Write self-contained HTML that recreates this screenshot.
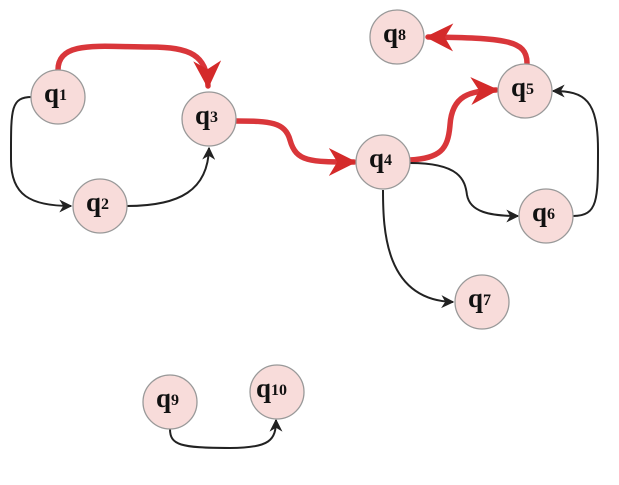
<!DOCTYPE html>
<html><head><meta charset="utf-8"><style>
html,body{margin:0;padding:0;background:#fff;width:619px;height:485px;overflow:hidden}
text{font-family:"Liberation Serif",serif;font-weight:bold;fill:#111}
</style></head><body>
<svg width="619" height="485" viewBox="0 0 619 485" xmlns="http://www.w3.org/2000/svg">
<defs>
<marker id="ab" viewBox="0 0 10 10" refX="9" refY="5" markerWidth="13" markerHeight="13" orient="auto" markerUnits="userSpaceOnUse"><path d="M0,0 L10,5 L0,10 L3,5 z" fill="#222"/></marker>
<marker id="ar" viewBox="0 0 10 10" refX="9" refY="5" markerWidth="28" markerHeight="28" orient="auto" markerUnits="userSpaceOnUse"><path d="M0,0 L10,5 L0,10 L3,5 z" fill="#d42a2a"/></marker>
</defs>
<g fill="none" stroke="#d9363a" stroke-width="5.5" stroke-linecap="round">
<path d="M58,70 C58,40 100,47 150,47 C190,47 207,55 208,86" marker-end="url(#ar)"/>
<path d="M236,121 C270,121 285,122 290,140 C296,162 310,162 354,162" marker-end="url(#ar)"/>
<path d="M410,160 C440,158 448,150 450,125 C452,95 470,91 496,90" marker-end="url(#ar)"/>
<path d="M527,63 C527,40 505,38 428,37" marker-end="url(#ar)"/>
</g>
<g fill="none" stroke="#222" stroke-width="2">
<path d="M32,97 C10,97 11,110 11,160 C11,195 30,206 71,206" marker-end="url(#ab)"/>
<path d="M127,206 C180,206 208,190 209,148" marker-end="url(#ab)"/>
<path d="M410,163 C460,163 465,180 467,195 C470,212 490,216 518,216" marker-end="url(#ab)"/>
<path d="M383,190 C383,230 385,300 453,302" marker-end="url(#ab)"/>
<path d="M573,216 C598,216 598,200 598,150 C598,100 585,91 553,91" marker-end="url(#ab)"/>
<path d="M170,429 C170,445 180,448 230,448 C270,448 276,440 276,420" marker-end="url(#ab)"/>
</g>
<g fill="#f8dcda" stroke="#999" stroke-width="1.3">
<circle cx="58" cy="97" r="27"/>
<circle cx="100" cy="206" r="27"/>
<circle cx="209" cy="119" r="27"/>
<circle cx="383" cy="162" r="27"/>
<circle cx="525" cy="91" r="27"/>
<circle cx="397" cy="37" r="27"/>
<circle cx="546" cy="216" r="27"/>
<circle cx="482" cy="302" r="27"/>
<circle cx="170" cy="402" r="27"/>
<circle cx="277" cy="392" r="27"/>
</g>
<g font-size="27">
<text x="44" y="102">q<tspan font-size="16" dy="-2">1</tspan></text>
<text x="86" y="211">q<tspan font-size="16" dy="-2">2</tspan></text>
<text x="195" y="124">q<tspan font-size="16" dy="-2">3</tspan></text>
<text x="369" y="167">q<tspan font-size="16" dy="-2">4</tspan></text>
<text x="511" y="96">q<tspan font-size="16" dy="-2">5</tspan></text>
<text x="383" y="42">q<tspan font-size="16" dy="-2">8</tspan></text>
<text x="532" y="221">q<tspan font-size="16" dy="-2">6</tspan></text>
<text x="468" y="307">q<tspan font-size="16" dy="-2">7</tspan></text>
<text x="156" y="407">q<tspan font-size="16" dy="-2">9</tspan></text>
<text x="256" y="397">q<tspan font-size="16" dy="-2">10</tspan></text>
</g>
</svg>
</body></html>
